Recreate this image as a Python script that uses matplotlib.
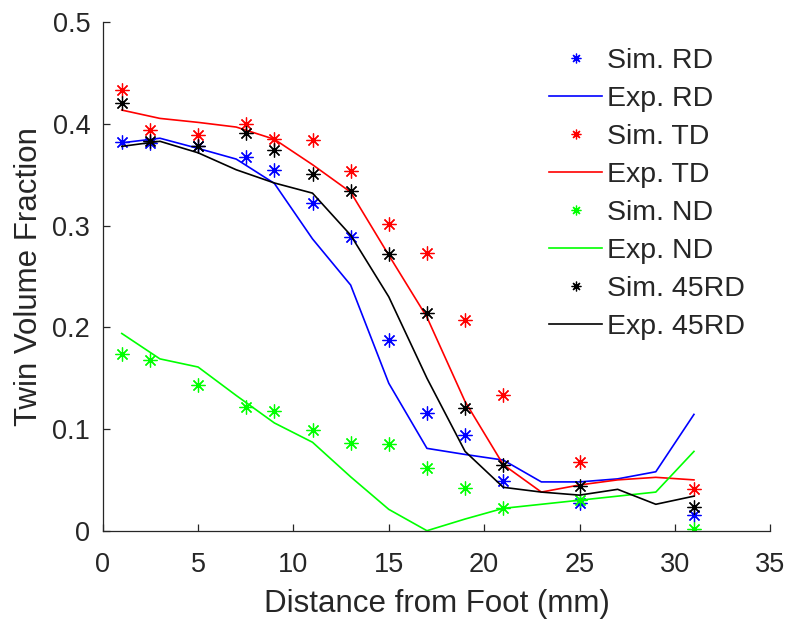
import numpy as np
from matplotlib import pyplot as plt

# Simulated twin volume fraction (points) and experiment (lines)
sim_x = [1, 2.5, 5, 7.5, 9, 11, 13, 15, 17, 19, 21, 25, 31]
sim_rd = [0.3825, 0.381, 0.378, 0.3677, 0.3547, 0.322, 0.289, 0.1875, 0.1154, 0.094, 0.049, 0.0275, 0.0154]
sim_td = [0.433, 0.394, 0.389, 0.3996, 0.385, 0.384, 0.3537, 0.3016, 0.2727, 0.207, 0.1334, 0.0678, 0.041]
sim_nd = [0.1737, 0.168, 0.143, 0.1213, 0.118, 0.099, 0.086, 0.085, 0.062, 0.0423, 0.0226, 0.030, 0.0017]
sim_45rd = [0.421, 0.383, 0.3786, 0.391, 0.374, 0.351, 0.334, 0.272, 0.2137, 0.121, 0.0646, 0.044, 0.0236]

exp_x = [1, 3, 5, 7, 9, 11, 13, 15, 17, 19, 21, 23, 25, 27, 29, 31]
exp_rd = [0.3815, 0.386, 0.376, 0.3655, 0.3416, 0.287, 0.2416, 0.145, 0.081, 0.075,
          0.0695, 0.048, 0.048, 0.051, 0.058, 0.1144]
exp_td = [0.4137, 0.4055, 0.4016, 0.397, 0.385, 0.360, 0.333, 0.271, 0.21, 0.127,
          0.065, 0.038, 0.045, 0.05, 0.0525, 0.050]
exp_nd = [0.194, 0.169, 0.161, 0.133, 0.106, 0.087, 0.053, 0.021, 0.0, 0.0115,
          0.022, 0.026, 0.030, 0.034, 0.038, 0.078]
exp_45rd = [0.378, 0.383, 0.3717, 0.355, 0.342, 0.332, 0.2907, 0.230, 0.15, 0.078,
            0.0427, 0.038, 0.035, 0.0407, 0.026, 0.034]

x_ticks = [0, 5, 10, 15, 20, 25, 30, 35]
y_ticks = [0, 0.1, 0.2, 0.3, 0.4, 0.5]
y_tick_labels = ["0", "0.1", "0.2", "0.3", "0.4", "0.5"]

series = [
    ("RD", sim_rd, exp_rd, (0, 0, 1)),
    ("TD", sim_td, exp_td, (1, 0, 0)),
    ("ND", sim_nd, exp_nd, (0, 1, 0)),
    ("45RD", sim_45rd, exp_45rd, (0, 0, 0)),
]

TEXT_COLOR = "#262626"
STAR = (8, 2, 0)  # asterisk with 8 spokes


def main():
    plt.rcParams["font.family"] = ["Liberation Sans", "DejaVu Sans"]

    fig = plt.figure(figsize=(7.9, 6.2), dpi=100)
    ax = fig.add_axes([0.130, 0.144, 0.845, 0.820])

    for name, sim, exp, color in series:
        ax.plot(sim_x, sim, linestyle="none", marker=STAR, markersize=10,
                markeredgewidth=0.9, color=color, label="Sim. " + name)
        ax.plot(exp_x, exp, linewidth=1.2, color=color, label="Exp. " + name)

    ax.set_xlim(0, 35)
    ax.set_ylim(0, 0.5)
    ax.set_xticks(x_ticks)
    ax.set_yticks(y_ticks)
    ax.set_yticklabels(y_tick_labels)

    for side in ("top", "right"):
        ax.spines[side].set_visible(False)
    for side in ("left", "bottom"):
        ax.spines[side].set_color(TEXT_COLOR)
        ax.spines[side].set_linewidth(0.9)
    ax.tick_params(direction="in", length=5, width=0.9, colors=TEXT_COLOR,
                   labelsize=19.5)
    ax.tick_params(axis="x", pad=15.5)
    ax.tick_params(axis="y", pad=9)

    ax.set_xlabel("Distance from Foot (mm)", fontsize=22.5, color=TEXT_COLOR, labelpad=8)
    ax.set_ylabel("Twin Volume Fraction", fontsize=22.5, color=TEXT_COLOR, labelpad=6)

    leg = ax.legend(loc="upper left", bbox_to_anchor=(0.695, 0.922),
                    bbox_transform=fig.transFigure, frameon=False, fontsize=20.5,
                    handlelength=1.86, handletextpad=0.18, labelspacing=0.42,
                    markerscale=0.7, borderaxespad=0, borderpad=0)
    for text in leg.get_texts():
        text.set_color(TEXT_COLOR)

    fig.savefig("out.png", dpi=100)


if __name__ == "__main__":
    main()
